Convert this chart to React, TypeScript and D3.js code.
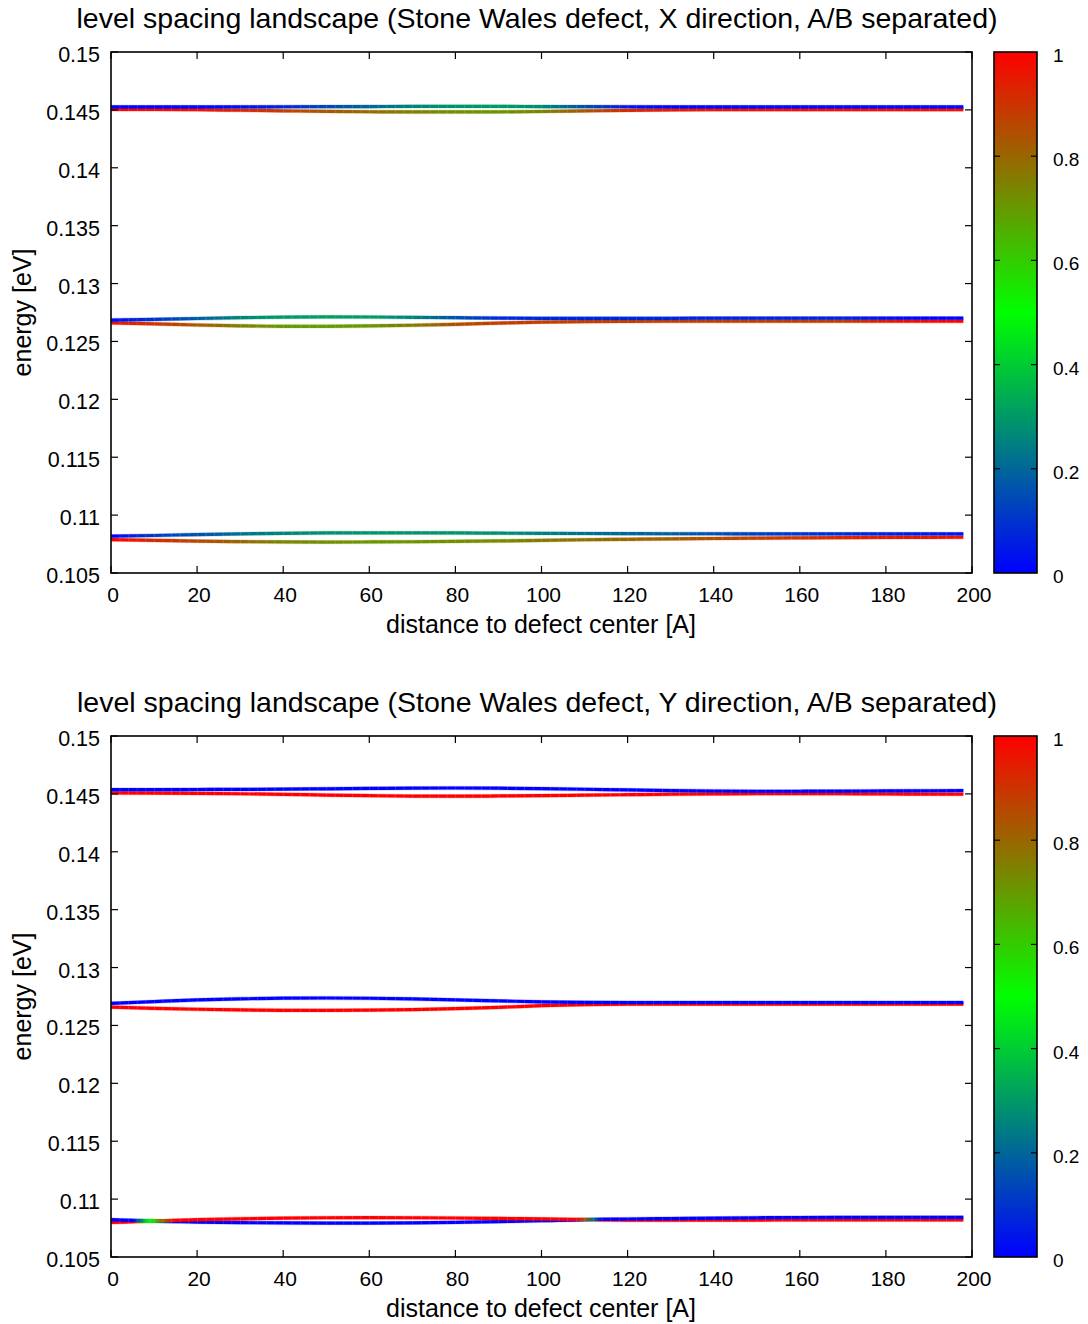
import React from "react";
import * as d3 from "d3";

// ---- axes / ticks ----
const X_TICKS = [0, 20, 40, 60, 80, 100, 120, 140, 160, 180, 200];
const Y_TICKS = [0.105, 0.11, 0.115, 0.12, 0.125, 0.13, 0.135, 0.14, 0.145, 0.15];
const CB_TICKS = [0, 0.2, 0.4, 0.6, 0.8, 1];
const Y_TICK_LABELS = ["0.105", "0.11", "0.115", "0.12", "0.125", "0.13", "0.135", "0.14", "0.145", "0.15"];

const TITLE_X = "level spacing landscape (Stone Wales defect, X direction, A/B separated)";
const TITLE_Y = "level spacing landscape (Stone Wales defect, Y direction, A/B separated)";
const X_LABEL = "distance to defect center [A]";
const Y_LABEL = "energy [eV]";

// ---- sampled distances [A] ----
const DIST = [0, 10, 20, 30, 40, 50, 60, 70, 80, 90, 100, 110, 120, 130, 140, 150, 160, 170, 180, 190, 198];

// ---- X direction: energies [eV] and sublattice weight (0 = A, 1 = B) ----
const X_TOP_HI_E = [0.14526, 0.14526, 0.14526, 0.14526, 0.14527, 0.14528, 0.14529, 0.1453, 0.1453, 0.1453, 0.14529, 0.14528, 0.14527, 0.14526, 0.14526, 0.14526, 0.14526, 0.14526, 0.14526, 0.14526, 0.14526];
const X_TOP_HI_W = [0, 0, 0.01, 0.03, 0.06, 0.14, 0.2, 0.26, 0.29, 0.3, 0.27, 0.15, 0.04, 0.01, 0.01, 0.01, 0.01, 0.01, 0.01, 0.01, 0.01];
const X_TOP_LO_E = [0.14504, 0.14504, 0.14502, 0.14497, 0.14492, 0.14487, 0.14484, 0.14482, 0.14482, 0.14483, 0.14486, 0.14491, 0.14496, 0.145, 0.14502, 0.14503, 0.14503, 0.14503, 0.14503, 0.14503, 0.14503];
const X_TOP_LO_W = [1, 0.99, 0.97, 0.93, 0.88, 0.83, 0.79, 0.75, 0.72, 0.71, 0.74, 0.83, 0.92, 0.95, 0.96, 0.97, 0.97, 0.97, 0.97, 0.97, 0.97];

const X_MID_HI_E = [0.12685, 0.1269, 0.12698, 0.12705, 0.1271, 0.12712, 0.12711, 0.12708, 0.12705, 0.12702, 0.127, 0.127, 0.127, 0.127, 0.12701, 0.12701, 0.12701, 0.12701, 0.12701, 0.12701, 0.12701];
const X_MID_HI_W = [0.02, 0.1, 0.18, 0.26, 0.3, 0.31, 0.3, 0.26, 0.16, 0.08, 0.07, 0.07, 0.07, 0.07, 0.07, 0.07, 0.07, 0.07, 0.03, 0.01, 0.01];
const X_MID_LO_E = [0.1266, 0.12652, 0.12642, 0.12635, 0.12631, 0.12631, 0.12634, 0.1264, 0.12648, 0.12658, 0.12667, 0.12672, 0.12674, 0.12675, 0.12675, 0.12675, 0.12675, 0.12675, 0.12675, 0.12675, 0.12675];
const X_MID_LO_W = [0.96, 0.9, 0.83, 0.75, 0.7, 0.69, 0.71, 0.76, 0.84, 0.88, 0.88, 0.88, 0.88, 0.88, 0.88, 0.88, 0.88, 0.88, 0.95, 0.98, 0.99];

const X_BOT_HI_E = [0.10818, 0.10824, 0.10832, 0.10838, 0.10843, 0.10846, 0.10847, 0.10847, 0.10846, 0.10844, 0.10842, 0.10841, 0.1084, 0.10839, 0.10839, 0.10838, 0.10838, 0.10838, 0.10838, 0.10838, 0.10838];
const X_BOT_HI_W = [0, 0.12, 0.16, 0.22, 0.26, 0.28, 0.29, 0.29, 0.29, 0.28, 0.25, 0.22, 0.2, 0.18, 0.15, 0.12, 0.1, 0.08, 0.06, 0.05, 0.04];
const X_BOT_LO_E = [0.10788, 0.10782, 0.10775, 0.10771, 0.10768, 0.10767, 0.10768, 0.1077, 0.10773, 0.10777, 0.10782, 0.10787, 0.10791, 0.10795, 0.10798, 0.10801, 0.10803, 0.10805, 0.10807, 0.10808, 0.10809];
const X_BOT_LO_W = [1, 0.92, 0.86, 0.8, 0.74, 0.72, 0.71, 0.71, 0.72, 0.73, 0.76, 0.78, 0.8, 0.82, 0.85, 0.88, 0.9, 0.92, 0.94, 0.95, 0.96];

// ---- Y direction ----
const Y_TOP_HI_E = [0.14537, 0.14537, 0.14538, 0.14539, 0.14541, 0.14544, 0.14547, 0.1455, 0.14551, 0.14549, 0.14545, 0.1454, 0.14534, 0.14529, 0.14525, 0.14523, 0.14523, 0.14524, 0.14526, 0.14527, 0.14528];
const Y_TOP_HI_W = [0, 0, 0, 0, 0, 0, 0, 0, 0, 0, 0, 0, 0, 0, 0, 0, 0, 0, 0, 0, 0];
const Y_TOP_LO_E = [0.14508, 0.14507, 0.14505, 0.14501, 0.14496, 0.1449, 0.14485, 0.14481, 0.1448, 0.14482, 0.14485, 0.14489, 0.14493, 0.14497, 0.145, 0.14502, 0.14502, 0.14501, 0.14499, 0.14498, 0.14497];
const Y_TOP_LO_W = [1, 1, 1, 1, 1, 1, 1, 1, 1, 1, 1, 1, 1, 1, 1, 1, 1, 1, 1, 1, 1];

const Y_MID_HI_E = [0.12691, 0.12706, 0.1272, 0.1273, 0.12736, 0.12737, 0.12735, 0.12729, 0.12721, 0.12712, 0.12703, 0.12699, 0.12698, 0.12698, 0.12698, 0.12698, 0.12698, 0.12698, 0.12698, 0.12698, 0.12698];
const Y_MID_HI_W = [0, 0, 0, 0, 0, 0, 0, 0, 0, 0, 0, 0, 0, 0, 0, 0, 0, 0, 0, 0, 0];
const Y_MID_LO_E = [0.12659, 0.12648, 0.1264, 0.12634, 0.12631, 0.1263, 0.12632, 0.12637, 0.12645, 0.12656, 0.12671, 0.1268, 0.12684, 0.12685, 0.12685, 0.12685, 0.12685, 0.12685, 0.12685, 0.12685, 0.12685];
const Y_MID_LO_W = [1, 1, 1, 1, 1, 1, 1, 1, 1, 1, 1, 1, 1, 1, 1, 1, 1, 1, 1, 1, 1];

const Y_BOT_HI_E = [0.10822, 0.10814, 0.10822, 0.1083, 0.10836, 0.10839, 0.1084, 0.10839, 0.10837, 0.10833, 0.10829, 0.10825, 0.10828, 0.10832, 0.10836, 0.10839, 0.10841, 0.10842, 0.10843, 0.10843, 0.10843];
const Y_BOT_LO_E = [0.10798, 0.10808, 0.10802, 0.10797, 0.10794, 0.10793, 0.10793, 0.10795, 0.10799, 0.10806, 0.10813, 0.10821, 0.10818, 0.10818, 0.10819, 0.10819, 0.1082, 0.1082, 0.1082, 0.1082, 0.1082];
// weights around the two level crossings
const Y_BOT_W_DIST = [0, 5, 7, 9, 11, 13, 15, 108, 110, 112, 114, 198];
const Y_BOT_HI_W = [0, 0, 0.25, 0.5, 0.72, 0.88, 1, 1, 0.85, 0.22, 0, 0];
const Y_BOT_LO_W = [1, 1, 0.75, 0.5, 0.28, 0.12, 0, 0, 0.15, 0.78, 1, 1];

type Curve = { e: number[]; wx: number[]; w: number[] };

const PANELS: { title: string; curves: Curve[] }[] = [
  {
    title: TITLE_X,
    curves: [
      { e: X_TOP_LO_E, wx: DIST, w: X_TOP_LO_W },
      { e: X_TOP_HI_E, wx: DIST, w: X_TOP_HI_W },
      { e: X_MID_LO_E, wx: DIST, w: X_MID_LO_W },
      { e: X_MID_HI_E, wx: DIST, w: X_MID_HI_W },
      { e: X_BOT_LO_E, wx: DIST, w: X_BOT_LO_W },
      { e: X_BOT_HI_E, wx: DIST, w: X_BOT_HI_W },
    ],
  },
  {
    title: TITLE_Y,
    curves: [
      { e: Y_TOP_LO_E, wx: DIST, w: Y_TOP_LO_W },
      { e: Y_TOP_HI_E, wx: DIST, w: Y_TOP_HI_W },
      { e: Y_MID_LO_E, wx: DIST, w: Y_MID_LO_W },
      { e: Y_MID_HI_E, wx: DIST, w: Y_MID_HI_W },
      { e: Y_BOT_LO_E, wx: Y_BOT_W_DIST, w: Y_BOT_LO_W },
      { e: Y_BOT_HI_E, wx: Y_BOT_W_DIST, w: Y_BOT_HI_W },
    ],
  },
];

const FONT = "'Liberation Sans', Arial, Helvetica, sans-serif";
const W = 1088;
const H = 1324;
const PLOT_L = 111;
const PLOT_R = 972;
const PLOT_T = 52;
const PLOT_B = 573;
const PANEL_DY = 684;
const CB_L = 994;
const CB_R = 1037;
const TICK = 7;

const weightColor = d3
  .scaleLinear<string>()
  .domain([0, 0.5, 1])
  .range(["#0000ff", "#00ff00", "#ff0000"])
  .interpolate(d3.interpolateRgb);

const x = d3.scaleLinear().domain([0, 200]).range([PLOT_L, PLOT_R]);

function Panel({ idx, title, curves }: { idx: number; title: string; curves: Curve[] }) {
  const top = PLOT_T + idx * PANEL_DY;
  const bottom = PLOT_B + idx * PANEL_DY;
  const y = d3.scaleLinear().domain([0.105, 0.15]).range([bottom, top]);
  const cb = d3.scaleLinear().domain([0, 1]).range([bottom, top]);
  const line = d3
    .line<number>()
    .x((_, i) => x(DIST[i]))
    .y((d) => y(d))
    .curve(d3.curveMonotoneX);
  const x0 = x(DIST[0]);
  const x1 = x(DIST[DIST.length - 1]);
  const seg = x(2) - x(0);
  const cbId = `cb-${idx}`;
  const midY = (top + bottom) / 2;

  return (
    <g>
      <defs>
        <clipPath id={`clip-${idx}`}>
          <rect x={PLOT_L} y={top} width={PLOT_R - PLOT_L} height={bottom - top} />
        </clipPath>
        {curves.map((c, ci) => (
          <linearGradient
            key={ci}
            id={`g-${idx}-${ci}`}
            gradientUnits="userSpaceOnUse"
            x1={x0}
            x2={x1}
            y1={0}
            y2={0}
          >
            {c.wx.map((d, k) => (
              <stop key={k} offset={(x(d) - x0) / (x1 - x0)} stopColor={weightColor(c.w[k])} />
            ))}
          </linearGradient>
        ))}
        <linearGradient id={cbId} x1="0" y1="1" x2="0" y2="0">
          {[0, 0.5, 1].map((v) => (
            <stop key={v} offset={v} stopColor={weightColor(v)} />
          ))}
        </linearGradient>
      </defs>

      {/* title */}
      <text x={537} y={top - 24} textAnchor="middle" fontSize={28.5} fontFamily={FONT} fill="#000">
        {title}
      </text>

      {/* level curves */}
      <g clipPath={`url(#clip-${idx})`}>
        {curves.map((c, ci) => {
          const d = line(c.e) || "";
          return (
            <g key={ci}>
              <path d={d} fill="none" stroke={`url(#g-${idx}-${ci})`} strokeWidth={4.4} strokeOpacity={0.22} />
              <path d={d} fill="none" stroke={`url(#g-${idx}-${ci})`} strokeWidth={3.2} />
              <path
                d={d}
                fill="none"
                stroke="#ffffff"
                strokeOpacity={0.2}
                strokeWidth={3.2}
                strokeDasharray={`0.7 ${seg - 0.7}`}
              />
            </g>
          );
        })}
      </g>

      {/* frame */}
      <rect
        x={PLOT_L}
        y={top}
        width={PLOT_R - PLOT_L}
        height={bottom - top}
        fill="none"
        stroke="#000"
        strokeWidth={1.6}
      />

      {/* x ticks */}
      {X_TICKS.map((t) => (
        <g key={`x${t}`}>
          <line x1={x(t)} x2={x(t)} y1={bottom} y2={bottom - TICK} stroke="#000" strokeWidth={1.2} />
          <line x1={x(t)} x2={x(t)} y1={top} y2={top + TICK} stroke="#000" strokeWidth={1.2} />
          <text x={x(t) + 2} y={bottom + 29} textAnchor="middle" fontSize={21} fontFamily={FONT}>
            {t}
          </text>
        </g>
      ))}

      {/* y ticks */}
      {Y_TICKS.map((t, i) => (
        <g key={`y${t}`}>
          <line x1={PLOT_L} x2={PLOT_L + TICK} y1={y(t)} y2={y(t)} stroke="#000" strokeWidth={1.2} />
          <line x1={PLOT_R} x2={PLOT_R - TICK} y1={y(t)} y2={y(t)} stroke="#000" strokeWidth={1.2} />
          <text x={100} y={y(t) + 10} textAnchor="end" fontSize={21.5} fontFamily={FONT}>
            {Y_TICK_LABELS[i]}
          </text>
        </g>
      ))}

      {/* axis labels */}
      <text x={541} y={bottom + 60} textAnchor="middle" fontSize={25} fontFamily={FONT}>
        {X_LABEL}
      </text>
      <text
        transform={`translate(31,${midY}) rotate(-90)`}
        textAnchor="middle"
        fontSize={25}
        fontFamily={FONT}
      >
        {Y_LABEL}
      </text>

      {/* colour box */}
      <rect x={CB_L} y={top} width={CB_R - CB_L} height={bottom - top} fill={`url(#${cbId})`} />
      <rect
        x={CB_L}
        y={top}
        width={CB_R - CB_L}
        height={bottom - top}
        fill="none"
        stroke="#000"
        strokeWidth={1.6}
      />
      {CB_TICKS.map((t) => (
        <g key={`c${t}`}>
          {t > 0 && t < 1 && (
            <>
              <line x1={CB_L} x2={CB_L + 6} y1={cb(t)} y2={cb(t)} stroke="#000" strokeWidth={1.2} />
              <line x1={CB_R} x2={CB_R - 6} y1={cb(t)} y2={cb(t)} stroke="#000" strokeWidth={1.2} />
            </>
          )}
          <text x={1053} y={cb(t) + 10} textAnchor="start" fontSize={19} fontFamily={FONT}>
            {t}
          </text>
        </g>
      ))}
    </g>
  );
}

export default function App() {
  return (
    <svg
      width={W}
      height={H}
      viewBox={`0 0 ${W} ${H}`}
      style={{ position: "absolute", left: 0, top: 0, background: "#fff" }}
    >
      <rect x={0} y={0} width={W} height={H} fill="#fff" />
      {PANELS.map((p, i) => (
        <Panel key={i} idx={i} title={p.title} curves={p.curves} />
      ))}
    </svg>
  );
}
